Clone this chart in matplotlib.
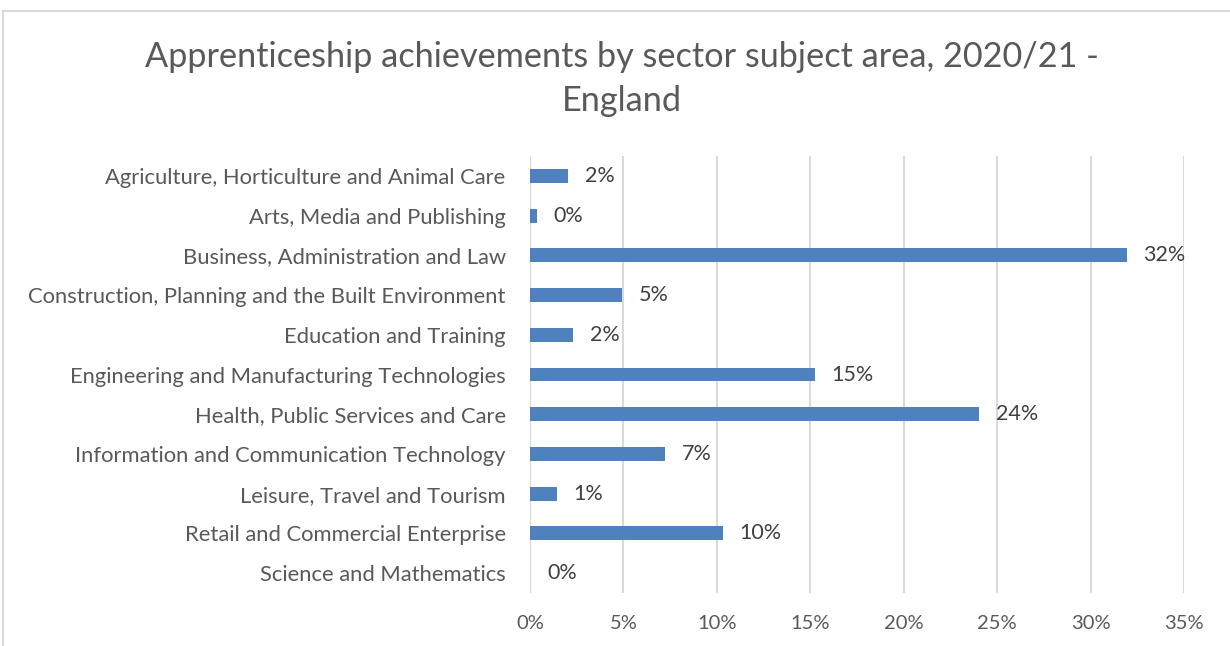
import matplotlib
matplotlib.use("Agg")
import matplotlib.pyplot as plt
from matplotlib.lines import Line2D
from matplotlib.ticker import FuncFormatter, MultipleLocator

categories = [
    "Agriculture, Horticulture and Animal Care",
    "Arts, Media and Publishing",
    "Business, Administration and Law",
    "Construction, Planning and the Built Environment",
    "Education and Training",
    "Engineering and Manufacturing Technologies",
    "Health, Public Services and Care",
    "Information and Communication Technology",
    "Leisure, Travel and Tourism",
    "Retail and Commercial Enterprise",
    "Science and Mathematics",
]
values = [0.0203, 0.0037, 0.3194, 0.0492, 0.023, 0.1525, 0.2403, 0.0722, 0.0144, 0.1033, 0.0002]
x_ticks = [0, 0.05, 0.10, 0.15, 0.20, 0.25, 0.30, 0.35]

plt.rcParams['font.family'] = ['Lato', 'DejaVu Sans']

fig = plt.figure(figsize=(12.3, 6.46), dpi=100)
ax = fig.add_axes([530/1230, 1-593/646, (1184-530)/1230, (593-156)/646])

y = list(range(len(categories)))
ax.barh(y, values, height=0.35, color="#4F81BD", zorder=3)
ax.set_ylim(len(categories)-0.5, -0.5)
ax.set_xlim(0, 0.35)
ax.set_yticks(y)
ax.set_yticklabels(categories, fontsize=15.8, color="#595959")
ax.set_xticks(x_ticks)
ax.xaxis.set_major_formatter(FuncFormatter(lambda v, p: f"{round(v*100):.0f}%"))
ax.tick_params(axis='x', labelsize=14.5, labelcolor="#595959", length=0, pad=16)
ax.tick_params(axis='y', length=0, pad=17.5)
ax.grid(axis='x', color="#D9D9D9", linewidth=1.5, zorder=0)
for s in ax.spines.values():
    s.set_visible(False)

for yi, v in zip(y, values):
    ax.annotate(f"{round(v*100):.0f}%", (v, yi), xytext=(12, 0), textcoords="offset points",
                va="center", ha="left", fontsize=15.5, color="#404040")

fig.text(622/1230, 1-57/646, "Apprenticeship achievements by sector subject area, 2020/21 -",
         ha="center", va="center", fontsize=24.7, color="#595959")
fig.text(622/1230, 1-101/646, "England", ha="center", va="center", fontsize=24.7, color="#595959")

fig.add_artist(Line2D([3/1230, 3/1230], [0, 1-11/646], transform=fig.transFigure, color="#D9D9D9", lw=1.5))
fig.add_artist(Line2D([3/1230, 1], [1-11/646, 1-11/646], transform=fig.transFigure, color="#D9D9D9", lw=1.5))

fig.savefig("out.png", dpi=100)
